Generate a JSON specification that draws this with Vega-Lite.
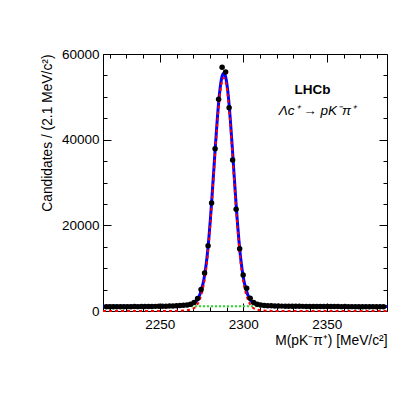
{
  "$schema": "https://vega.github.io/schema/vega-lite/v6.json",
  "width": 284,
  "height": 257,
  "autosize": {"type": "none"},
  "padding": {"left": 103, "top": 54, "right": 20, "bottom": 84},
  "background": "white",
  "config": {
    "view": {"stroke": "black", "strokeWidth": 1},
    "font": "Liberation Sans",
    "axis": {"grid": false, "domain": false, "tickColor": "black", "tickWidth": 1, "labelColor": "black", "titleColor": "black", "labelFont": "Liberation Sans", "titleFont": "Liberation Sans", "labelFontSize": 13.5, "titleFontSize": 13.8, "titleFontWeight": "normal"}
  },
  "datasets": {
    "bins": [
      {"m": 2218.0, "n": 1000}, {"m": 2220.1, "n": 1010}, {"m": 2222.2, "n": 990}, {"m": 2224.3, "n": 1000},
      {"m": 2226.4, "n": 1010}, {"m": 2228.5, "n": 1000}, {"m": 2230.6, "n": 1020}, {"m": 2232.7, "n": 1010},
      {"m": 2234.8, "n": 1030}, {"m": 2236.9, "n": 1020}, {"m": 2239.0, "n": 1040}, {"m": 2241.1, "n": 1050},
      {"m": 2243.2, "n": 1050}, {"m": 2245.3, "n": 1070}, {"m": 2247.4, "n": 1080}, {"m": 2249.5, "n": 1090},
      {"m": 2251.6, "n": 1110}, {"m": 2253.7, "n": 1130}, {"m": 2255.8, "n": 1160}, {"m": 2257.9, "n": 1190},
      {"m": 2260.0, "n": 1220}, {"m": 2262.1, "n": 1260}, {"m": 2264.2, "n": 1320}, {"m": 2266.3, "n": 1420},
      {"m": 2268.4, "n": 1600}, {"m": 2270.5, "n": 2000}, {"m": 2272.6, "n": 2900}, {"m": 2274.7, "n": 5000},
      {"m": 2276.8, "n": 8900}, {"m": 2278.9, "n": 15240}, {"m": 2281.0, "n": 25210}, {"m": 2283.1, "n": 37890},
      {"m": 2285.2, "n": 49420}, {"m": 2287.3, "n": 56890}, {"m": 2289.4, "n": 55800}, {"m": 2291.5, "n": 47460},
      {"m": 2293.6, "n": 35250}, {"m": 2295.7, "n": 23740}, {"m": 2297.8, "n": 14540}, {"m": 2299.9, "n": 8400},
      {"m": 2302.0, "n": 5300}, {"m": 2304.1, "n": 3000}, {"m": 2306.2, "n": 2000}, {"m": 2308.3, "n": 1600},
      {"m": 2310.4, "n": 1400}, {"m": 2312.5, "n": 1300}, {"m": 2314.6, "n": 1250}, {"m": 2316.7, "n": 1200},
      {"m": 2318.8, "n": 1170}, {"m": 2320.9, "n": 1150}, {"m": 2323.0, "n": 1140}, {"m": 2325.1, "n": 1120},
      {"m": 2327.2, "n": 1110}, {"m": 2329.3, "n": 1100}, {"m": 2331.4, "n": 1090}, {"m": 2333.5, "n": 1090},
      {"m": 2335.6, "n": 1080}, {"m": 2337.7, "n": 1070}, {"m": 2339.8, "n": 1070}, {"m": 2341.9, "n": 1060},
      {"m": 2344.0, "n": 1050}, {"m": 2346.1, "n": 1060}, {"m": 2348.2, "n": 1040}, {"m": 2350.3, "n": 1050},
      {"m": 2352.4, "n": 1030}, {"m": 2354.5, "n": 1040}, {"m": 2356.6, "n": 1030}, {"m": 2358.7, "n": 1020},
      {"m": 2360.8, "n": 1030}, {"m": 2362.9, "n": 1010}, {"m": 2365.0, "n": 1020}, {"m": 2367.1, "n": 1010},
      {"m": 2369.2, "n": 1000}, {"m": 2371.3, "n": 1010}, {"m": 2373.4, "n": 1000}, {"m": 2375.5, "n": 990},
      {"m": 2377.6, "n": 1000}, {"m": 2379.7, "n": 990}, {"m": 2381.8, "n": 1000}, {"m": 2383.9, "n": 990}
    ],
    "total": [
      {"m": 2216.0, "v": 1080}, {"m": 2248.3, "v": 1120}, {"m": 2260.3, "v": 1180}, {"m": 2265.3, "v": 1280},
      {"m": 2268.3, "v": 1450}, {"m": 2270.3, "v": 1750}, {"m": 2271.3, "v": 2050}, {"m": 2272.3, "v": 2500},
      {"m": 2273.3, "v": 3200}, {"m": 2274.3, "v": 4200}, {"m": 2275.3, "v": 5500}, {"m": 2276.3, "v": 7200},
      {"m": 2277.3, "v": 9600}, {"m": 2278.3, "v": 12700}, {"m": 2279.3, "v": 16700}, {"m": 2280.3, "v": 21500},
      {"m": 2281.3, "v": 27000}, {"m": 2282.3, "v": 32800}, {"m": 2283.3, "v": 38700}, {"m": 2284.3, "v": 44200},
      {"m": 2285.3, "v": 49000}, {"m": 2286.3, "v": 52600}, {"m": 2287.3, "v": 54800}, {"m": 2288.3, "v": 55500},
      {"m": 2289.3, "v": 54800}, {"m": 2290.3, "v": 52600}, {"m": 2291.3, "v": 49000}, {"m": 2292.3, "v": 44200},
      {"m": 2293.3, "v": 38700}, {"m": 2294.3, "v": 32800}, {"m": 2295.3, "v": 27000}, {"m": 2296.3, "v": 21500},
      {"m": 2297.3, "v": 16700}, {"m": 2298.3, "v": 12700}, {"m": 2299.3, "v": 9600}, {"m": 2300.3, "v": 7200},
      {"m": 2301.3, "v": 5500}, {"m": 2302.3, "v": 4200}, {"m": 2303.3, "v": 3200}, {"m": 2304.3, "v": 2500},
      {"m": 2305.3, "v": 2050}, {"m": 2306.3, "v": 1750}, {"m": 2308.3, "v": 1450}, {"m": 2311.3, "v": 1280},
      {"m": 2316.3, "v": 1180}, {"m": 2328.3, "v": 1120}, {"m": 2386.0, "v": 1060}
    ],
    "signal": [
      {"m": 2216.0, "v": 0}, {"m": 2248.3, "v": 0}, {"m": 2260.3, "v": 30}, {"m": 2265.3, "v": 120},
      {"m": 2268.3, "v": 300}, {"m": 2270.3, "v": 600}, {"m": 2271.3, "v": 900}, {"m": 2272.3, "v": 1400},
      {"m": 2273.3, "v": 2100}, {"m": 2274.3, "v": 3100}, {"m": 2275.3, "v": 4400}, {"m": 2276.3, "v": 6100},
      {"m": 2277.3, "v": 8500}, {"m": 2278.3, "v": 11600}, {"m": 2279.3, "v": 15600}, {"m": 2280.3, "v": 20400},
      {"m": 2281.3, "v": 25900}, {"m": 2282.3, "v": 31700}, {"m": 2283.3, "v": 37600}, {"m": 2284.3, "v": 43100},
      {"m": 2285.3, "v": 47900}, {"m": 2286.3, "v": 51500}, {"m": 2287.3, "v": 53700}, {"m": 2288.3, "v": 54400},
      {"m": 2289.3, "v": 53700}, {"m": 2290.3, "v": 51500}, {"m": 2291.3, "v": 47900}, {"m": 2292.3, "v": 43100},
      {"m": 2293.3, "v": 37600}, {"m": 2294.3, "v": 31700}, {"m": 2295.3, "v": 25900}, {"m": 2296.3, "v": 20400},
      {"m": 2297.3, "v": 15600}, {"m": 2298.3, "v": 11600}, {"m": 2299.3, "v": 8500}, {"m": 2300.3, "v": 6100},
      {"m": 2301.3, "v": 4400}, {"m": 2302.3, "v": 3100}, {"m": 2303.3, "v": 2100}, {"m": 2304.3, "v": 1400},
      {"m": 2305.3, "v": 900}, {"m": 2306.3, "v": 600}, {"m": 2308.3, "v": 300}, {"m": 2311.3, "v": 120},
      {"m": 2316.3, "v": 30}, {"m": 2328.3, "v": 0}, {"m": 2386.0, "v": 0}
    ],
    "background": [
      {"m": 2216.0, "v": 1150}, {"m": 2386.0, "v": 1100}
    ]
  },
  "layer": [
    {
      "data": {"name": "background"},
      "mark": {"type": "line", "color": "#22dd22", "strokeWidth": 2, "strokeDash": [2, 2]},
      "encoding": {
        "x": {"field": "m", "type": "quantitative", "scale": {"domain": [2216, 2386], "nice": false, "zero": false},
              "axis": {"orient": "top", "values": [2220,2230,2240,2260,2270,2280,2290,2310,2320,2330,2340,2360,2370,2380], "tickSize": -4, "labels": false, "title": null}},
        "y": {"field": "v", "type": "quantitative", "scale": {"domain": [0, 60000], "nice": false},
              "axis": {"orient": "right", "values": [5000,10000,15000,25000,30000,35000,45000,50000,55000], "tickSize": -4, "labels": false, "title": null}}
      }
    },
    {
      "data": {"name": "total"},
      "mark": {"type": "line", "color": "#0000ff", "strokeWidth": 3, "interpolate": "monotone"},
      "encoding": {
        "x": {"field": "m", "type": "quantitative",
              "axis": {"orient": "bottom", "values": [2220,2230,2240,2260,2270,2280,2290,2310,2320,2330,2340,2360,2370,2380], "tickSize": -4, "labels": false, "title": null}},
        "y": {"field": "v", "type": "quantitative",
              "axis": {"orient": "left", "values": [5000,10000,15000,25000,30000,35000,45000,50000,55000], "tickSize": -4, "labels": false, "title": null}}
      }
    },
    {
      "data": {"name": "signal"},
      "mark": {"type": "line", "color": "#ff0000", "strokeWidth": 2, "strokeDash": [3, 3], "interpolate": "monotone"},
      "encoding": {
        "x": {"field": "m", "type": "quantitative",
              "axis": {"orient": "top", "values": [2250, 2300, 2350], "tickSize": -8, "labels": false, "title": null}},
        "y": {"field": "v", "type": "quantitative",
              "axis": {"orient": "right", "values": [0, 20000, 40000, 60000], "tickSize": -8, "labels": false, "title": null}}
      }
    },
    {
      "data": {"name": "bins"},
      "mark": {"type": "circle", "color": "black", "opacity": 1, "size": 30},
      "encoding": {
        "x": {"field": "m", "type": "quantitative",
              "axis": {"orient": "bottom", "values": [2250, 2300, 2350], "tickSize": -8, "labelPadding": 14, "format": "d",
                       "title": "M(pK⁻π⁺) [MeV/c²]", "titleX": 284, "titleY": 29, "titleAlign": "right", "titleBaseline": "middle"}},
        "y": {"field": "n", "type": "quantitative",
              "axis": {"orient": "left", "values": [0, 20000, 40000, 60000], "tickSize": -8, "labelPadding": 12, "format": "d",
                       "title": "Candidates / (2.1 MeV/c²)", "titleAngle": -90, "titleX": -56, "titleY": 0, "titleAlign": "right", "titleBaseline": "middle"}}
      }
    },
    {
      "data": {"values": [{"m": 2341.4, "v": 51600, "t": "LHCb"}]},
      "mark": {"type": "text", "font": "Liberation Sans", "fontWeight": "bold", "fontSize": 13.5, "color": "black", "align": "center", "baseline": "middle"},
      "encoding": {
        "x": {"field": "m", "type": "quantitative", "axis": null},
        "y": {"field": "v", "type": "quantitative", "axis": null},
        "text": {"field": "t"}
      }
    },
    {
      "data": {"values": [{"m": 2344.4, "v": 46700, "t": "Λc⁺ → pK⁻π⁺"}]},
      "mark": {"type": "text", "font": "Liberation Sans", "fontStyle": "italic", "fontSize": 13.5, "color": "black", "align": "center", "baseline": "middle"},
      "encoding": {
        "x": {"field": "m", "type": "quantitative", "axis": null},
        "y": {"field": "v", "type": "quantitative", "axis": null},
        "text": {"field": "t"}
      }
    }
  ],
  "resolve": {"axis": {"x": "independent", "y": "independent"}}
}
